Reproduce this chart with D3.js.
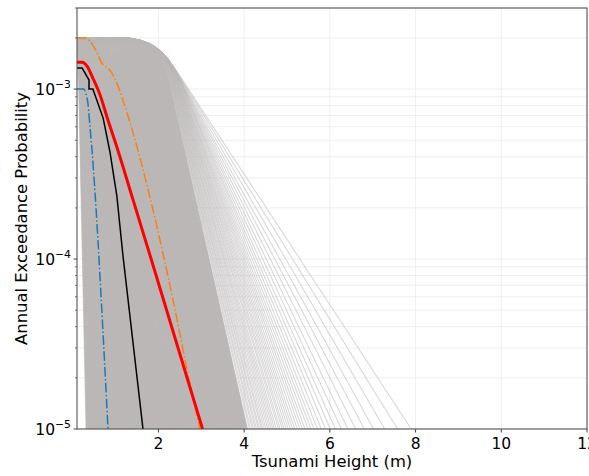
<!DOCTYPE html>
<html>
<head>
<meta charset="utf-8">
<script src="https://cdn.jsdelivr.net/npm/d3@7"></script>
<style>
  html, body { margin: 0; padding: 0; background: #fff; }
  svg { display: block; }
  text { font-family: "DejaVu Sans", sans-serif; fill: #000; }
</style>
</head>
<body>
<svg id="chart" width="589" height="476"></svg>
<script>
// ---- data -------------------------------------------------------------
// Logic-tree branch hazard curves: every branch is capped at the same
// maximum annual rate and then falls off log-linearly.  Each branch is
// given by the tsunami height (m) at which it passes 1e-3 and 1e-5.
const branchCapProb = 2e-3;
const branchHeightAt1e3 = [
  0.14, 0.15, 0.17, 0.18, 0.20, 0.21, 0.22, 0.24, 0.25, 0.26,
  0.28, 0.29, 0.30, 0.32, 0.33, 0.34, 0.36, 0.37, 0.39, 0.40,
  0.41, 0.43, 0.44, 0.45, 0.47, 0.48, 0.49, 0.51, 0.52, 0.53,
  0.55, 0.56, 0.58, 0.59, 0.60, 0.62, 0.63, 0.64, 0.66, 0.67,
  0.68, 0.70, 0.71, 0.72, 0.74, 0.75, 0.77, 0.78, 0.79, 0.81,
  0.82, 0.83, 0.85, 0.86, 0.87, 0.89, 0.90, 0.91, 0.93, 0.94,
  0.96, 0.97, 0.98, 1.00, 1.01, 1.02, 1.04, 1.05, 1.06, 1.08,
  1.09, 1.10, 1.12, 1.13, 1.15, 1.16, 1.17, 1.19, 1.20, 1.21,
  1.23, 1.24, 1.25, 1.27, 1.28, 1.29, 1.31, 1.32, 1.34, 1.35,
  1.36, 1.38, 1.39, 1.40, 1.42, 1.43, 1.44, 1.46, 1.47, 1.48,
  1.50, 1.51, 1.53, 1.54, 1.55, 1.57, 1.58, 1.59, 1.61, 1.62,
  1.63, 1.65, 1.66, 1.67, 1.69, 1.70, 1.72, 1.73, 1.74, 1.76,
  1.77, 1.78, 1.80, 1.81, 1.82, 1.84, 1.85, 1.86, 1.88, 1.89,
  1.91, 1.92, 1.93, 1.95, 1.96, 1.97, 1.99, 2.00, 2.01, 2.03,
  2.04, 2.05, 2.07, 2.08, 2.10, 2.11, 2.12, 2.14, 2.15, 2.16,
  2.18, 2.19, 2.20, 2.22, 2.23, 2.24, 2.26, 2.27, 2.28, 2.29,
  2.30, 2.31, 2.32, 2.32, 2.33, 2.34, 2.35, 2.35, 2.36, 2.37,
  2.38, 2.38, 2.39, 2.40, 2.41, 2.41, 2.42, 2.43, 2.44, 2.44,
  2.45, 2.46, 2.47, 2.47, 2.48, 2.49, 2.50, 2.50, 2.51, 2.52,
  2.53, 2.53, 2.54, 2.55, 2.56, 2.57, 2.58, 2.58, 2.59, 2.60,
  2.61, 2.62, 2.63, 2.64, 2.66, 2.68, 2.70
];
const branchHeightAt1e5 = [
  0.31, 0.33, 0.35, 0.38, 0.40, 0.42, 0.45, 0.47, 0.50, 0.52,
  0.54, 0.57, 0.59, 0.61, 0.64, 0.66, 0.69, 0.71, 0.73, 0.76,
  0.78, 0.80, 0.83, 0.85, 0.88, 0.90, 0.92, 0.95, 0.97, 1.00,
  1.02, 1.04, 1.07, 1.09, 1.11, 1.14, 1.16, 1.19, 1.21, 1.23,
  1.26, 1.28, 1.30, 1.33, 1.35, 1.38, 1.40, 1.42, 1.45, 1.47,
  1.49, 1.52, 1.54, 1.57, 1.59, 1.61, 1.64, 1.66, 1.68, 1.71,
  1.73, 1.76, 1.78, 1.80, 1.83, 1.85, 1.87, 1.90, 1.92, 1.95,
  1.97, 1.99, 2.02, 2.04, 2.06, 2.09, 2.11, 2.14, 2.16, 2.18,
  2.21, 2.23, 2.25, 2.28, 2.30, 2.33, 2.35, 2.37, 2.40, 2.42,
  2.44, 2.47, 2.49, 2.52, 2.54, 2.56, 2.59, 2.61, 2.63, 2.66,
  2.68, 2.71, 2.73, 2.75, 2.78, 2.80, 2.82, 2.85, 2.87, 2.90,
  2.92, 2.94, 2.97, 2.99, 3.01, 3.04, 3.06, 3.09, 3.11, 3.13,
  3.16, 3.18, 3.20, 3.23, 3.25, 3.28, 3.30, 3.32, 3.35, 3.37,
  3.39, 3.42, 3.44, 3.47, 3.49, 3.51, 3.54, 3.56, 3.58, 3.61,
  3.63, 3.66, 3.68, 3.70, 3.73, 3.75, 3.77, 3.80, 3.82, 3.85,
  3.87, 3.89, 3.92, 3.94, 3.96, 3.99, 4.01, 4.04, 4.06, 4.08,
  4.12, 4.15, 4.19, 4.22, 4.26, 4.29, 4.33, 4.36, 4.40, 4.43,
  4.47, 4.51, 4.55, 4.59, 4.63, 4.67, 4.71, 4.75, 4.80, 4.84,
  4.89, 4.93, 4.98, 5.03, 5.08, 5.13, 5.18, 5.24, 5.30, 5.36,
  5.42, 5.49, 5.56, 5.63, 5.71, 5.80, 5.90, 6.01, 6.13, 6.27,
  6.42, 6.60, 6.80, 7.02, 7.28, 7.58, 7.90
];
// branches that overlap into one solid body (the rest form the light tail)
const denseBranchCount = 160;

// Mean hazard curve
const meanHeight = [0.10, 0.22, 0.33, 0.47, 0.64, 0.82, 1.03, 1.41, 1.83, 3.03];
const meanProb   = [1.44e-3, 1.44e-3, 1.37e-3, 1.16e-3, 9.2e-4, 6.6e-4, 4.56e-4, 2.22e-4, 1.0e-4, 1.0e-5];

// Median (50th percentile)
const medianHeight = [0.10, 0.22, 0.38, 0.38, 0.47, 0.71, 0.87, 1.03, 1.17, 1.64];
const medianProb   = [1.33e-3, 1.33e-3, 1.13e-3, 1.0e-3, 1.0e-3, 6.75e-4, 4.26e-4, 2.35e-4, 1.06e-4, 1.0e-5];

// 5th percentile
const p05Height = [0.10, 0.26, 0.31, 0.36, 0.40, 0.45, 0.52, 0.66, 0.823];
const p05Prob   = [1.0e-3, 1.0e-3, 9.35e-4, 8.05e-4, 6.14e-4, 4.38e-4, 2.48e-4, 6.14e-5, 1.0e-5];

// 95th percentile
const p95Height = [0.10, 0.29, 0.40, 0.57, 0.68, 0.78, 0.87, 1.03, 1.17, 1.41, 1.80, 2.39, 2.78, 2.97];
const p95Prob   = [2.0e-3, 2.0e-3, 1.92e-3, 1.63e-3, 1.42e-3, 1.35e-3, 1.29e-3, 1.08e-3, 8.62e-4, 5.51e-4, 2.32e-4, 5.01e-5, 1.63e-5, 1.0e-5];

const xDomain = [0.1, 12];
const yDomain = [1e-5, 3e-3];
const xTickValues = [2, 4, 6, 8, 10, 12];
const xLabel = "Tsunami Height (m)";
const yLabel = "Annual Exceedance Probability";

// ---- layout -----------------------------------------------------------
const svg = d3.select("#chart");
const W = 589, H = 476;
const plot = { left: 77, right: 587, top: 8, bottom: 429 };
const branchGray = "#bcb8b8";

svg.append("rect").attr("width", W).attr("height", H).attr("fill", "#fff");

const x = d3.scaleLinear().domain(xDomain).range([plot.left, plot.right]);
const y = d3.scaleLog().domain(yDomain).range([plot.bottom, plot.top]);

svg.append("clipPath").attr("id", "plotClip")
  .append("rect")
  .attr("x", plot.left).attr("y", plot.top)
  .attr("width", plot.right - plot.left).attr("height", plot.bottom - plot.top);

// ---- grid -------------------------------------------------------------
const gridG = svg.append("g").attr("class", "grid");
const yAllTicks = y.ticks();
gridG.selectAll("line.gy").data(yAllTicks).join("line")
  .attr("class", "gy")
  .attr("x1", plot.left).attr("x2", plot.right)
  .attr("y1", d => y(d)).attr("y2", d => y(d))
  .attr("stroke", "#ebebeb").attr("stroke-width", 0.8);
gridG.selectAll("line.gx").data(xTickValues).join("line")
  .attr("class", "gx")
  .attr("x1", d => x(d)).attr("x2", d => x(d))
  .attr("y1", plot.top).attr("y2", plot.bottom)
  .attr("stroke", "#ebebeb").attr("stroke-width", 0.8);

// ---- branch curves ----------------------------------------------------
const curvesG = svg.append("g").attr("clip-path", "url(#plotClip)");
const cornerRadius = 40;

// trace one branch (cap, rounded knee, log-linear fall-off) into path p
function traceBranch(p, h3, h5, start) {
  const yCap = y(branchCapProb), y3 = y(1e-3), y5 = y(1e-5);
  const px3 = x(h3), px5 = x(h5);
  const k = (px5 - px3) / (y5 - y3);          // horizontal px per vertical px
  const pxC = px3 - k * (y3 - yCap);           // where the fall-off meets the cap
  const x0 = x(xDomain[0]);
  const r = Math.min(cornerRadius, Math.max(0, pxC - x0));
  const ax = pxC - r;
  const n = Math.hypot(k, 1);
  const bx = pxC + r * k / n, by = yCap + r / n;
  if (start) p.moveTo(x0, yCap); else p.lineTo(x0, yCap);
  p.lineTo(ax, yCap);
  p.quadraticCurveTo(pxC, yCap, bx, by);
  p.lineTo(px5, y5);
  p.lineTo(px5 + k * 20, y5 + 20);
  return p;
}

const branches = branchHeightAt1e3.map((h3, i) => [h3, branchHeightAt1e5[i]]);

// solid body where the dense branches overlap
const first = branches[0], lastDense = branches[denseBranchCount - 1];
const body = traceBranch(d3.path(), lastDense[0], lastDense[1], true);
body.lineTo(x(first[1]), y(1e-5) + 20);
body.lineTo(x(first[1]), y(1e-5));
body.lineTo(x(first[0]), y(1e-3));
body.lineTo(x(xDomain[0]), y(branchCapProb) + 12);
body.closePath();
curvesG.append("path").attr("d", body.toString()).attr("fill", branchGray);

curvesG.selectAll("path.branch").data(branches).join("path")
  .attr("class", "branch")
  .attr("d", d => traceBranch(d3.path(), d[0], d[1], true).toString())
  .attr("fill", "none")
  .attr("stroke", branchGray)
  .attr("stroke-opacity", 0.55)
  .attr("stroke-width", 1.1);

// ---- summary curves ---------------------------------------------------
function series(hs, ps) { return hs.map((h, i) => [h, ps[i]]); }
const smooth = d3.line().x(d => x(d[0])).y(d => y(d[1])).curve(d3.curveMonotoneX);
const straight = d3.line().x(d => x(d[0])).y(d => y(d[1]));

curvesG.append("path")
  .attr("d", smooth(series(p05Height, p05Prob)))
  .attr("fill", "none").attr("stroke", "#1f77b4").attr("stroke-width", 1.5)
  .attr("stroke-dasharray", "9.6,2.4,1.5,2.4");

curvesG.append("path")
  .attr("d", smooth(series(p95Height, p95Prob)))
  .attr("fill", "none").attr("stroke", "#ff7f0e").attr("stroke-width", 1.5)
  .attr("stroke-dasharray", "9.6,2.4,1.5,2.4");

curvesG.append("path")
  .attr("d", straight(series(medianHeight, medianProb)))
  .attr("fill", "none").attr("stroke", "#000").attr("stroke-width", 1.5);

curvesG.append("path")
  .attr("d", smooth(series(meanHeight, meanProb)))
  .attr("fill", "none").attr("stroke", "#ff0000").attr("stroke-width", 3);

// ---- frame ------------------------------------------------------------
svg.append("rect")
  .attr("x", plot.left).attr("y", plot.top)
  .attr("width", plot.right - plot.left).attr("height", plot.bottom - plot.top)
  .attr("fill", "none").attr("stroke", "#444").attr("stroke-width", 1);

// ---- x axis -----------------------------------------------------------
const xAxisG = svg.append("g");
xAxisG.selectAll("line").data(xTickValues).join("line")
  .attr("x1", d => x(d)).attr("x2", d => x(d))
  .attr("y1", plot.bottom).attr("y2", plot.bottom + 3.5)
  .attr("stroke", "#444").attr("stroke-width", 1);
xAxisG.selectAll("text").data(xTickValues).join("text")
  .attr("x", d => x(d)).attr("y", 449)
  .attr("text-anchor", "middle")
  .attr("font-size", 15.5)
  .text(d => d);

svg.append("text")
  .attr("x", (plot.left + plot.right) / 2).attr("y", 467)
  .attr("text-anchor", "middle").attr("font-size", 16.4)
  .text(xLabel);

// ---- y axis -----------------------------------------------------------
const yAxisG = svg.append("g");
const isMajor = d => Math.abs(Math.log10(d) - Math.round(Math.log10(d))) < 1e-9;
yAxisG.selectAll("line").data(yAllTicks).join("line")
  .attr("x1", plot.left).attr("x2", d => plot.left - (isMajor(d) ? 3.5 : 2))
  .attr("y1", d => y(d)).attr("y2", d => y(d))
  .attr("stroke", "#444").attr("stroke-width", d => isMajor(d) ? 1 : 0.7);

const majors = yAllTicks.filter(isMajor);
const yLab = yAxisG.selectAll("text").data(majors).join("text")
  .attr("x", 71).attr("y", d => y(d) + 5.5)
  .attr("text-anchor", "end")
  .attr("font-size", 15.5);
yLab.append("tspan").text("10");
yLab.append("tspan")
  .attr("dy", -7).attr("font-size", 10.8)
  .text(d => "\u2212" + Math.abs(Math.round(Math.log10(d))));

svg.append("text")
  .attr("transform", `translate(27,${(plot.top + plot.bottom) / 2}) rotate(-90)`)
  .attr("text-anchor", "middle").attr("font-size", 16.4)
  .text(yLabel);
</script>
</body>
</html>
